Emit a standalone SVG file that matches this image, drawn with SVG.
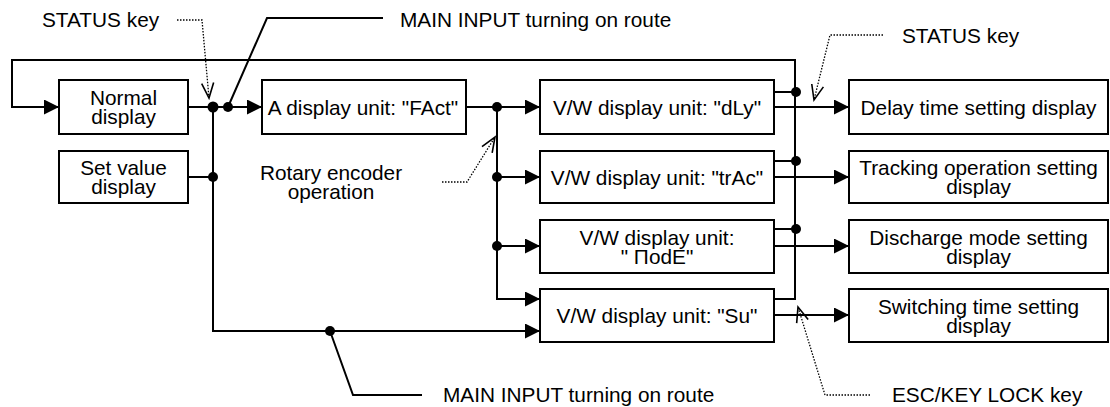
<svg xmlns="http://www.w3.org/2000/svg" width="1110" height="407" viewBox="0 0 1110 407">
<style>
text{font-family:"Liberation Sans",Arial,sans-serif;font-size:20.8px;fill:#000}
.c{text-anchor:middle}
.box{fill:#fff;stroke:#000;stroke-width:2}
.ln{fill:none;stroke:#000;stroke-width:2}
.dot{fill:#000}
.dt{fill:none;stroke:#000;stroke-width:1.3;stroke-dasharray:1.5 1.5}
</style>
<defs>
<marker id="arr" markerWidth="16" markerHeight="16" refX="15" refY="7.5" orient="auto" markerUnits="userSpaceOnUse"><path d="M0,0 L15,7.5 L0,15 z" fill="#000"/></marker>
<marker id="open" viewBox="-17 -8 19 16" markerWidth="19" markerHeight="16" refX="0" refY="0" orient="auto" markerUnits="userSpaceOnUse"><path d="M-15,-6 L0,0 L-15,6" fill="none" stroke="#000" stroke-width="1.6"/></marker>
</defs>

<g id="connectors">
<path class="ln" d="M188,107 H262" marker-end="url(#arr)"/>
<path class="ln" d="M213,107 V331 H540" marker-end="url(#arr)"/>
<path class="ln" d="M188,177 H213"/>
<path class="ln" d="M466,107 H540" marker-end="url(#arr)"/>
<path class="ln" d="M497,107 V299 H540" marker-end="url(#arr)"/>
<path class="ln" d="M497,177 H540" marker-end="url(#arr)"/>
<path class="ln" d="M497,246 H540" marker-end="url(#arr)"/>
<path class="ln" d="M774,107 H849" marker-end="url(#arr)"/>
<path class="ln" d="M774,177 H849" marker-end="url(#arr)"/>
<path class="ln" d="M774,246 H849" marker-end="url(#arr)"/>
<path class="ln" d="M774,315 H849" marker-end="url(#arr)"/>
<path class="ln" d="M774,92 H795"/>
<path class="ln" d="M774,161 H795"/>
<path class="ln" d="M774,229 H795"/>
<path class="ln" d="M774,299 H795 V60 H12 V107 H59" marker-end="url(#arr)"/>
<path class="ln" d="M228,107 L267,18 H383"/>
<path class="ln" d="M330,331 L353,395 H422"/>
<path class="dt" d="M177,20 H202 L209,98" marker-end="url(#open)"/>
<path class="dt" d="M442,182 H467 L495,137" marker-end="url(#open)"/>
<path class="dt" d="M883,35 H830 L814,100" marker-end="url(#open)"/>
<path class="dt" d="M870,395 H825 L798,307" marker-end="url(#open)"/>
<circle class="dot" cx="213" cy="107" r="5.5"/>
<circle class="dot" cx="228" cy="107" r="5"/>
<circle class="dot" cx="213" cy="177" r="5"/>
<circle class="dot" cx="330" cy="331" r="5"/>
<circle class="dot" cx="497" cy="107" r="5"/>
<circle class="dot" cx="497" cy="177" r="5"/>
<circle class="dot" cx="497" cy="246" r="5"/>
<circle class="dot" cx="796" cy="92" r="5"/>
<circle class="dot" cx="796" cy="161" r="5"/>
<circle class="dot" cx="796" cy="229" r="5"/>
</g>

<g id="normal"><rect class="box" x="59" y="80" width="129" height="54"/><text class="c" x="123.5" y="105">Normal</text><text class="c" x="123.5" y="124">display</text></g>
<g id="setvalue"><rect class="box" x="59" y="151" width="129" height="52"/><text class="c" x="123.5" y="175">Set value</text><text class="c" x="123.5" y="194">display</text></g>
<g id="fact"><rect class="box" x="262" y="80" width="204" height="54"/><text class="c" x="363" y="114.5">A display unit: "FAct"</text></g>
<g id="dly"><rect class="box" x="540" y="80" width="234" height="54"/><text class="c" x="657" y="114.5">V/W display unit: "dLy"</text></g>
<g id="trac"><rect class="box" x="540" y="151" width="234" height="52"/><text class="c" x="657" y="184.5">V/W display unit: "trAc"</text></g>
<g id="mode"><rect class="box" x="540" y="220" width="234" height="53"/><text class="c" x="657" y="244.5">V/W display unit:</text><text class="c" x="657" y="263.5">" ΠodE"</text></g>
<g id="su"><rect class="box" x="540" y="289" width="234" height="53"/><text class="c" x="657" y="323">V/W display unit: "Su"</text></g>
<g id="delay"><rect class="box" x="849" y="80" width="259" height="54"/><text class="c" x="978.5" y="114.5">Delay time setting display</text></g>
<g id="tracking"><rect class="box" x="849" y="151" width="259" height="52"/><text class="c" x="978.5" y="175">Tracking operation setting</text><text class="c" x="978.5" y="194">display</text></g>
<g id="discharge"><rect class="box" x="849" y="220" width="259" height="53"/><text class="c" x="978.5" y="244.5">Discharge mode setting</text><text class="c" x="978.5" y="263.5">display</text></g>
<g id="switching"><rect class="box" x="849" y="289" width="259" height="53"/><text class="c" x="978.5" y="313.5">Switching time setting</text><text class="c" x="978.5" y="332.5">display</text></g>

<g id="labels">
<text x="42" y="27">STATUS key</text>
<text x="400" y="27">MAIN INPUT turning on route</text>
<text class="c" x="331" y="180">Rotary encoder</text>
<text class="c" x="331" y="199">operation</text>
<text x="902" y="43">STATUS key</text>
<text x="443" y="402">MAIN INPUT turning on route</text>
<text x="892" y="402">ESC/KEY LOCK key</text>
</g>
</svg>
